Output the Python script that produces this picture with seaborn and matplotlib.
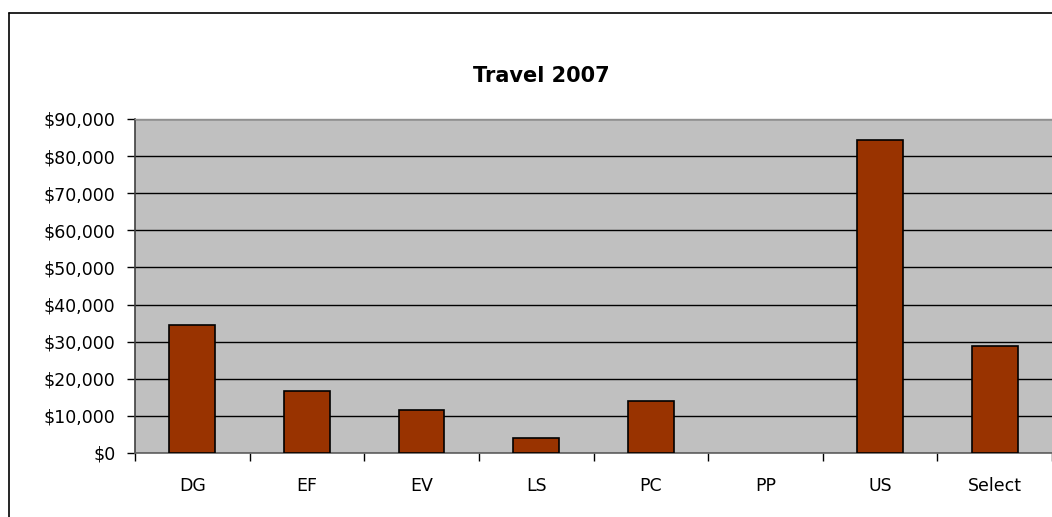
import matplotlib
matplotlib.use("Agg")
import matplotlib.pyplot as plt
import seaborn as sns
import pandas as pd
from matplotlib.ticker import FuncFormatter, MultipleLocator, FixedLocator
from matplotlib.lines import Line2D

categories = ["DG", "EF", "EV", "LS", "PC", "PP", "US", "Select"]
values = [34500, 16800, 11600, 4100, 13900, 0, 84300, 28900]
title = "Travel 2007"

sns.set_theme(style="white")
plt.rcParams["font.family"] = ["DejaVu Sans"]

df = pd.DataFrame({"cat": categories, "val": values})

fig = plt.figure(figsize=(10.52, 5.17), dpi=100)
W, H = 1052, 517
ax = fig.add_axes([135 / W, (H - 453) / H, (W - 135) / W, (453 - 119) / H])
ax.set_facecolor("#C0C0C0")

sns.barplot(data=df, x="cat", y="val", color="#993300", width=0.4,
            edgecolor="black", linewidth=1.2, saturation=1, ax=ax, zorder=3)
for p in ax.patches:
    if p.get_height() == 0:
        p.set_visible(False)

ax.set_xlim(-0.5, len(categories) - 0.5)
ax.set_ylim(0, 90000)
ax.yaxis.set_major_locator(MultipleLocator(10000))
ax.yaxis.set_major_formatter(FuncFormatter(lambda v, p: f"${int(v):,}"))
ax.grid(axis="y", color="black", linewidth=1.0, zorder=0)
ax.set_axisbelow(True)
ax.set_xlabel("")
ax.set_ylabel("")

ax.xaxis.set_minor_locator(FixedLocator([i - 0.5 for i in range(len(categories) + 1)]))
ax.tick_params(axis="x", which="major", length=0, pad=17, labelsize=12.5, colors="black")
ax.tick_params(axis="x", which="minor", length=6, width=1, color="black", direction="out", bottom=True)
ax.tick_params(axis="y", which="major", length=6, width=1, color="black", direction="out",
               left=True, pad=8, labelsize=12.5, labelcolor="black")

ax.spines["left"].set_color("#404040")
ax.spines["left"].set_linewidth(1.2)
ax.spines["bottom"].set_color("#606060")
ax.spines["bottom"].set_linewidth(1.2)
ax.spines["top"].set_color("#909090")
ax.spines["top"].set_linewidth(1.0)
ax.spines["right"].set_visible(False)

fig.text(541 / W, (H - 76) / H, title, ha="center", va="center",
         fontsize=15, fontweight="bold", color="black")

# outer chart border (left and top edges visible)
fig.add_artist(Line2D([9.5 / W, 9.5 / W], [0, (H - 12.5) / H], color="black", linewidth=1.2,
                      transform=fig.transFigure))
fig.add_artist(Line2D([9.5 / W, 1], [(H - 12.5) / H, (H - 12.5) / H], color="black", linewidth=1.2,
                      transform=fig.transFigure))

fig.savefig("out.png", dpi=100, facecolor="white")
